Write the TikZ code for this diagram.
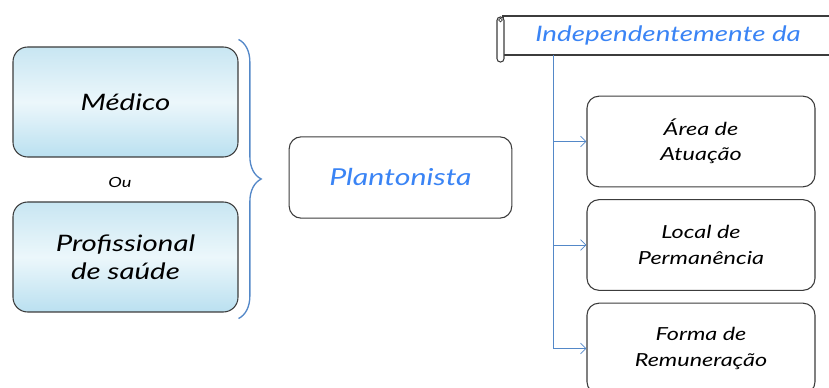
\documentclass[tikz,border=0pt]{standalone}
\usepackage{fontspec}
\setmainfont{Lato}[FakeStretch=1.3]
\usetikzlibrary{arrows}
\usetikzlibrary{arrows.meta}
\usetikzlibrary{positioning}
\usetikzlibrary{decorations.pathreplacing}
\definecolor{txtblue}{RGB}{58,132,245}
\definecolor{lineblue}{RGB}{84,136,200}
\definecolor{boxgray}{RGB}{60,60,60}
\definecolor{filltop}{RGB}{200,230,242}
\definecolor{fillmid}{RGB}{236,247,251}
\definecolor{fillbot}{RGB}{186,224,240}
\tikzset{
	role/.style={draw=boxgray, rounded corners=11pt, line width=0.8pt, top color=filltop, bottom color=fillbot, middle color=fillmid, minimum width=168.75pt, minimum height=82.5pt, align=center, font=\itshape\fontsize{17}{21}\selectfont},
	plant/.style={draw=boxgray, rounded corners=9pt, line width=0.8pt, fill=white, minimum width=167pt, minimum height=61pt, text=txtblue, font=\itshape\fontsize{17.5}{22}\selectfont},
	topic/.style={draw=boxgray, rounded corners=9pt, line width=0.8pt, fill=white, minimum width=171pt, minimum height=68pt, align=center, font=\itshape\fontsize{13.5}{19}\selectfont},
	scroll/.style={draw=boxgray, line width=0.8pt, fill=white, minimum width=247.5pt, minimum height=29.25pt, text=txtblue, font=\itshape\fontsize{16}{20}\selectfont},
	link/.style={draw=lineblue, line width=0.6pt, -{Straight Barb[length=4pt, width=8pt]}},
	brace/.style={draw=lineblue, line width=1pt, decorate, decoration={brace, amplitude=17pt, aspect=0.5}}
}
\begin{document}
\begin{tikzpicture}[x=0.75pt, y=-0.75pt]
	\useasboundingbox (0,0) rectangle (829,388);
	\clip (0,0) rectangle (829,388);

\node[role](medico) at (125.5,102){Médico};
\node[role](prof) at (125.5,257){Profissional\\de saúde};
\node[font=\itshape\fontsize{10.5}{12}\selectfont](ou) at (120,182){Ou};

\node[plant](plant) at (400.5,177.5){Plantonista};

\node[scroll](hdr) at (668,35.5){Independentemente da};
\draw[draw=boxgray, line width=0.8pt, fill=white, rounded corners=2.5pt] (497,17) rectangle (504,62);
\draw[draw=boxgray, line width=0.5pt] (500.5,20) circle (1.8);
\coordinate (spine) at (553,55);

\node[topic](area) at (701,141.5){Área de\\Atuação};
\node[topic](local) at (701,245){Local de\\Permanência};
\node[topic](forma) at (701,348.5){Forma de\\Remuneração};

\draw[brace] ([yshift=5.25pt]medico.north east) -- ([yshift=-4.5pt]prof.south east);

\draw[link] (spine) |- (area.west);
\draw[link] (spine) |- (local.west);
\draw[link] (spine) |- (forma.west);
\end{tikzpicture}
\end{document}
